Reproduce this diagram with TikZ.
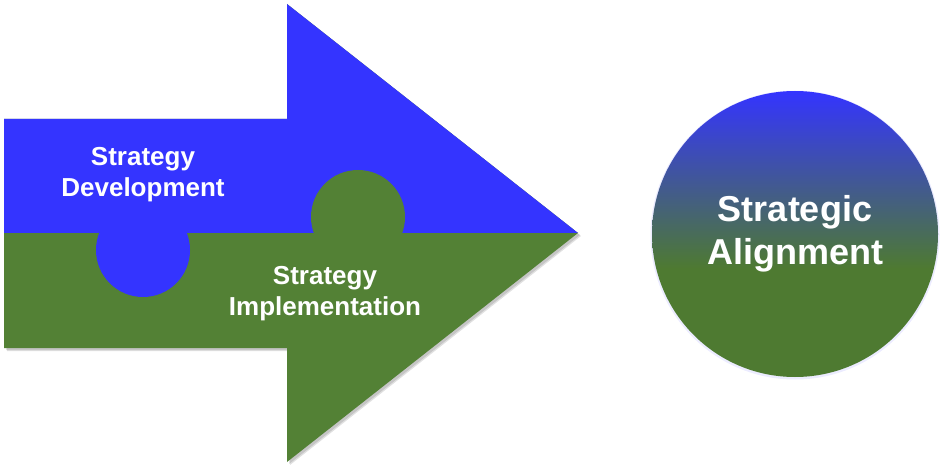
\documentclass[tikz,border=0pt]{standalone}
\usepackage{fontspec}
\setmainfont{Liberation Sans}
\definecolor{pblue}{HTML}{3434FF}
\definecolor{pgreen}{HTML}{538135}
\definecolor{cgreen}{HTML}{4E7A31}
\pgfdeclareverticalshading{circgrad}{100bp}{color(0bp)=(cgreen); color(44bp)=(cgreen); color(75bp)=(pblue); color(100bp)=(pblue)}
\begin{document}
\begin{tikzpicture}[x=1pt,y=-1pt,
  lbl/.style={text=white,font=\bfseries\fontsize{26}{31}\selectfont,align=center,inner sep=0pt},
  biglbl/.style={text=white,font=\bfseries\fontsize{36}{43}\selectfont,align=center,inner sep=0pt},
  knob/.style={circle,minimum size=94pt,inner sep=0pt}]
\useasboundingbox (0,0) rectangle (945,473);
% shadow of arrow
\fill[black,opacity=0.12] (7,122) -- (290,122) -- (290,8) -- (581,236) -- (290,465) -- (290,351) -- (7,351) -- cycle;
\fill[black,opacity=0.12] (6,121) -- (289,121) -- (289,7) -- (580,235) -- (289,464) -- (289,350) -- (6,350) -- cycle;
% arrow: green base
\fill[pgreen] (4,119) -- (287,119) -- (287,4) -- (578,233) -- (287,462) -- (287,348) -- (4,348) -- cycle;
% blue upper half
\fill[pblue] (4,119) -- (287,119) -- (287,4) -- (578,233) -- (4,233) -- cycle;
% puzzle knobs
\node[knob,fill=pblue] (kb) at (143,250) {};
\node[knob,fill=pgreen] (kg) at (358,217) {};
% labels
\node[lbl] (dev) at (143,175) {Strategy\\Development};
\node[lbl] (imp) at (325,294) {Strategy\\Implementation};
% circle
\fill[blue!30,opacity=0.25] (795,235) circle (144.5);
\node[circle,minimum size=286pt,inner sep=0pt,shading=circgrad] (sa) at (795,234) {};
\node[biglbl] (sat) at (795,234) {Strategic\\Alignment};
\end{tikzpicture}
\end{document}
